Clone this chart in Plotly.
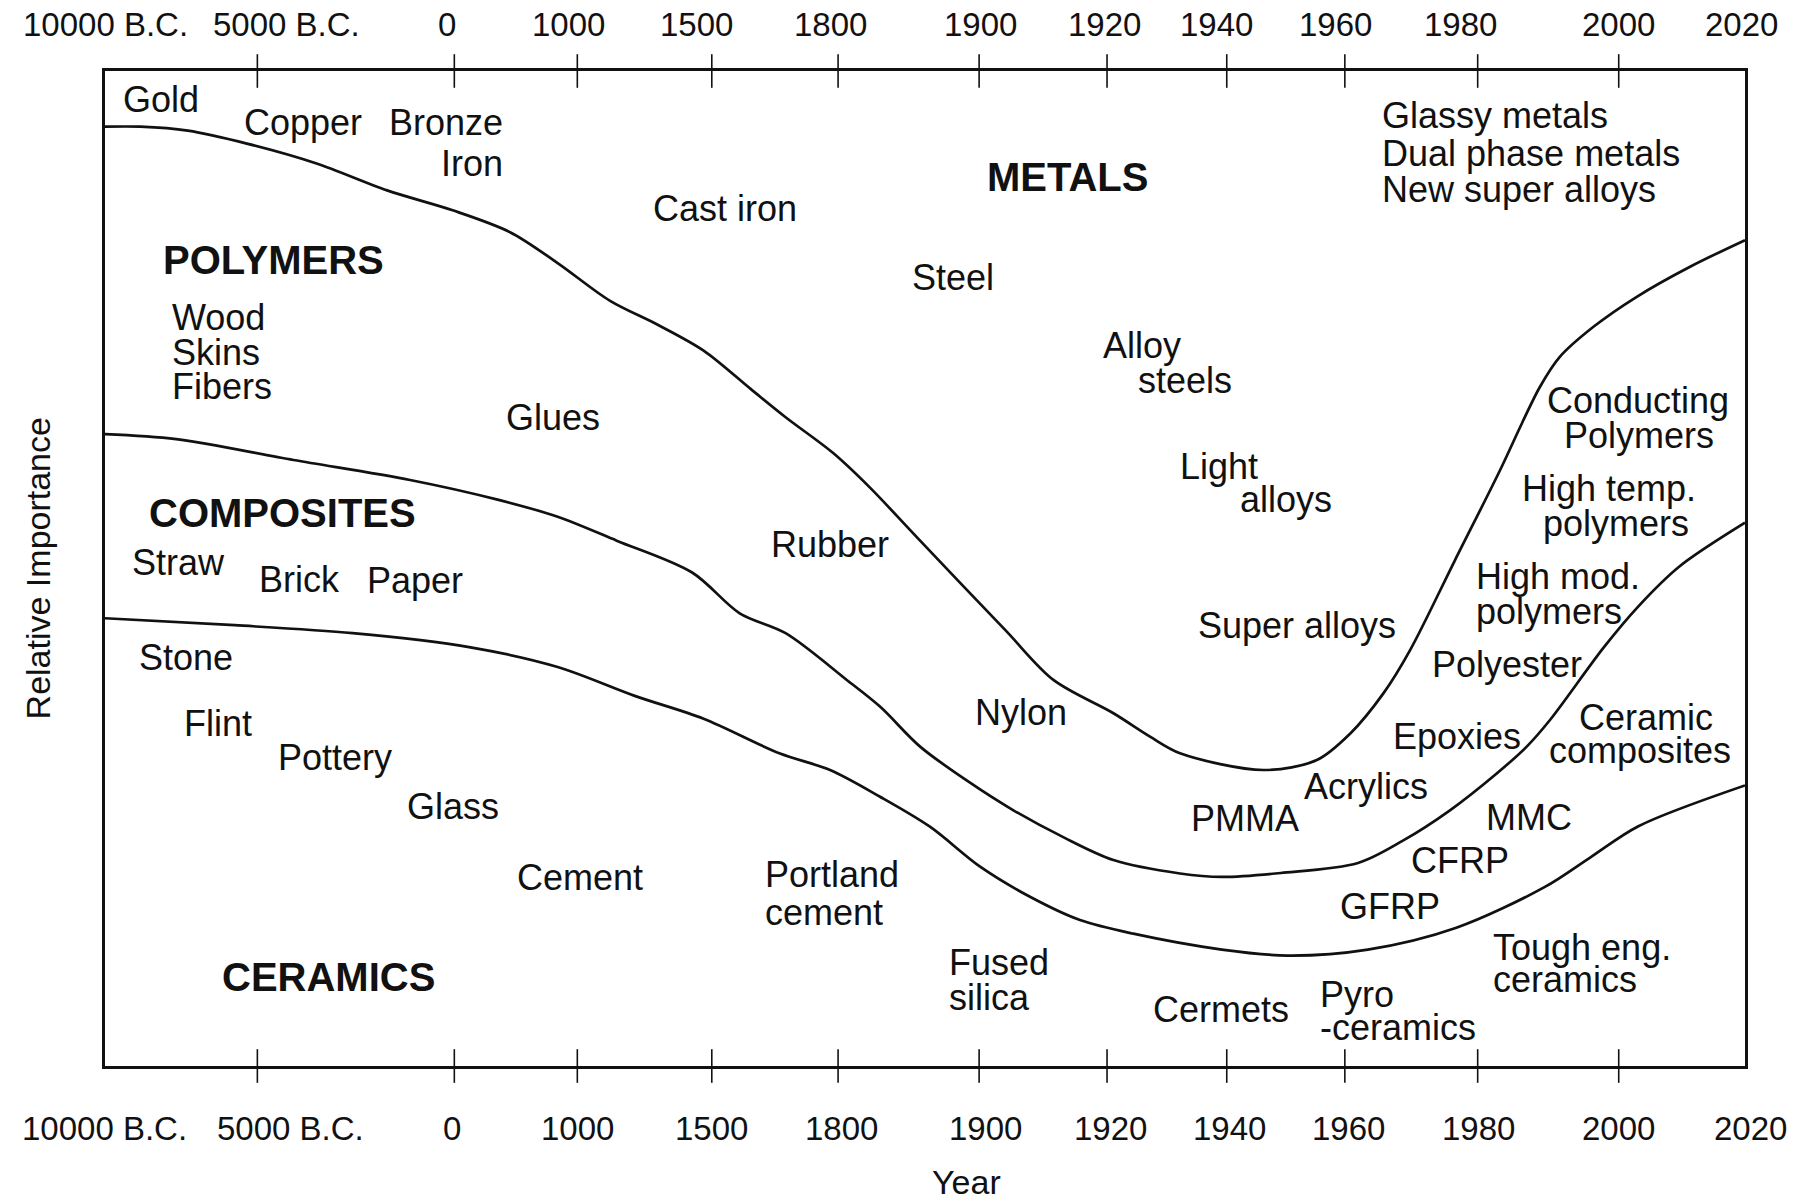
import plotly.graph_objects as go

# ---------------- data ----------------
# x = position along the (non-linear) time axis: 0 = 10000 B.C., 100 = 2020
# y = relative importance (0 = bottom of frame, 1 = top)

# boundary between METALS (above) and POLYMERS (below)
metals_x = [0, 2.15, 5.05, 8.65, 12.9, 17.2, 21.2, 24.7, 27.6, 30.8, 33.7, 36.5, 39.4,
            41.5, 44.4, 46.6, 49.7, 54.9, 57.83, 61.49, 63.72, 65.55, 70.63, 73.89, 75.92,
            77.95, 79.58, 82.32, 85.07, 86.4, 87.5, 88.72, 90.76, 93.40, 96.65, 100]
metals_y = [0.944, 0.944, 0.940, 0.927, 0.907, 0.880, 0.860, 0.838, 0.807, 0.769, 0.745,
            0.719, 0.680, 0.652, 0.616, 0.582, 0.528, 0.438, 0.388, 0.3545, 0.331, 0.3143,
            0.2975, 0.3075, 0.334, 0.3745, 0.418, 0.5085, 0.599, 0.646, 0.6827, 0.7129,
            0.7429, 0.7731, 0.8033, 0.830]

# boundary between POLYMERS (above) and COMPOSITES (below)
polymers_x = [0, 4.34, 11.5, 18.6, 24.0, 27.6, 31.2, 35.8, 38.7, 41.5, 45.23, 47.27, 49.70,
              52.54, 55.39, 58.43, 61.49, 65.55, 68.1, 71.7, 76.4, 79.14, 82.01, 84.86,
              86.69, 88.12, 91.4, 93.5, 96.0, 100]
polymers_y = [0.635, 0.630, 0.609, 0.589, 0.569, 0.552, 0.528, 0.496, 0.455, 0.435, 0.388,
              0.361, 0.321, 0.287, 0.257, 0.230, 0.207, 0.1935, 0.190, 0.194, 0.204, 0.2265,
              0.257, 0.294, 0.321, 0.348, 0.421, 0.462, 0.502, 0.546]

# boundary between COMPOSITES (above) and CERAMICS (below)
ceramics_x = [0, 7.9, 15.1, 22.2, 27.6, 32.3, 36.5, 41.16, 44.21, 47.26, 50.30, 53.36,
              56.40, 59.45, 62.7, 68.1, 72.1, 77.0, 82.4, 87.8, 90.6, 93.5, 100]
ceramics_y = [0.450, 0.443, 0.435, 0.421, 0.401, 0.372, 0.349, 0.314, 0.2975, 0.2706,
              0.2405, 0.2003, 0.1701, 0.1467, 0.133, 0.117, 0.111, 0.117, 0.139, 0.180,
              0.210, 0.241, 0.282]

tick_labels = ["10000 B.C.", "5000 B.C.", "0", "1000", "1500", "1800", "1900", "1920",
               "1940", "1960", "1980", "2000", "2020"]

class_names = ["POLYMERS", "METALS", "COMPOSITES", "CERAMICS"]
class_x = [10.28, 58.71, 10.85, 13.60]
class_y = [0.810, 0.893, 0.556, 0.089]

material_text = ["Gold", "Copper", "Bronze", "Iron", "Cast iron", "Glassy metals",
                 "Dual phase metals", "New super alloys", "Steel", "Wood", "Skins", "Fibers",
                 "Glues", "Alloy", "steels", "Light", "alloys", "Conducting", "Polymers",
                 "Straw", "Brick", "Paper", "Rubber", "High temp.", "polymers", "High mod.",
                 "polymers", "Super alloys", "Stone", "Polyester", "Flint", "Nylon", "Epoxies",
                 "Ceramic", "composites", "Pottery", "Acrylics", "Glass", "PMMA", "MMC", "CFRP",
                 "Cement", "Portland", "cement", "GFRP", "Tough eng.", "ceramics", "Fused",
                 "silica", "Cermets", "Pyro", "-ceramics"]
material_x = [3.42, 12.05, 24.39, 24.39, 37.78, 77.73, 77.73, 77.73, 51.71, 3.97, 3.97, 3.97,
              27.32, 63.23, 65.85, 67.90, 72.0, 93.49, 93.56, 4.48, 11.84, 18.9, 44.22, 91.73,
              92.15, 83.45, 83.45, 72.71, 4.91, 85.5, 6.89, 55.88, 82.46, 93.97, 93.6, 14.03,
              76.88, 21.24, 69.53, 86.85, 82.6, 28.98, 40.11, 40.11, 78.36, 84.51, 84.51,
              51.36, 51.36, 68.04, 73.98, 73.98]
material_y = [0.971, 0.948, 0.948, 0.907, 0.862, 0.955, 0.917, 0.881, 0.792, 0.752, 0.717,
              0.683, 0.652, 0.724, 0.689, 0.603, 0.569, 0.669, 0.634, 0.506, 0.489, 0.4875,
              0.524, 0.580, 0.545, 0.492, 0.457, 0.443, 0.411, 0.404, 0.344, 0.355, 0.331,
              0.350, 0.317, 0.310, 0.281, 0.261, 0.249, 0.250, 0.207, 0.189, 0.192, 0.154,
              0.160, 0.119, 0.0867, 0.104, 0.069, 0.0564, 0.0715, 0.0389]
material_anchor = ["center", "center", "right", "right", "center", "left", "left", "left",
                   "center", "left", "left", "left", "center", "center", "center", "center",
                   "center", "center", "center", "center", "center", "center", "center",
                   "center", "center", "left", "left", "center", "center", "center", "center",
                   "center", "center", "center", "center", "center", "center", "center",
                   "center", "center", "center", "center", "left", "left", "center", "left",
                   "left", "left", "left", "center", "left", "left"]

# ---------------- layout constants ----------------
FONT = "Liberation Sans, Arial, Helvetica, sans-serif"
INK = "#111111"
tick_pos = [9.29, 21.3, 28.8, 37.0, 44.7, 53.3, 61.1, 68.4, 75.6, 83.7, 92.3]
# label centres as fractions of the plot width (paper coordinates)
top_label_x = [0.0, 0.1106, 0.2088, 0.2824, 0.3608, 0.4422, 0.5341, 0.6097, 0.6776,
               0.7504, 0.8268, 0.9229, 0.9979]
bottom_label_x = [-0.0006, 0.1132, 0.2117, 0.2884, 0.3698, 0.4492, 0.5366, 0.6133, 0.6858,
                  0.758, 0.8378, 0.9229, 1.0035]

fig = go.Figure()

for xs, ys in [(metals_x, metals_y), (polymers_x, polymers_y), (ceramics_x, ceramics_y)]:
    fig.add_trace(go.Scatter(
        x=xs, y=ys, mode="lines",
        line=dict(color=INK, width=2.7, shape="spline", smoothing=0.9),
        hoverinfo="skip", showlegend=False))

# tick marks crossing the top and bottom frame lines
n = len(tick_pos)
fig.add_trace(go.Scatter(
    x=tick_pos + tick_pos, y=[1] * n + [0] * n, mode="markers",
    marker=dict(symbol="line-ns", size=24, color=INK, line=dict(color=INK, width=1.6)),
    cliponaxis=False, hoverinfo="skip", showlegend=False))

ann = []
for t, xv in zip(tick_labels, top_label_x):
    ann.append(dict(text=t, x=xv, xref="paper", y=1.047, yref="paper", showarrow=False,
                    xanchor="center", yanchor="middle",
                    font=dict(family=FONT, size=33, color=INK)))
for t, xv in zip(tick_labels, bottom_label_x):
    ann.append(dict(text=t, x=xv, xref="paper", y=-0.0633, yref="paper", showarrow=False,
                    xanchor="center", yanchor="middle",
                    font=dict(family=FONT, size=33, color=INK)))
for t, xv, yv in zip(class_names, class_x, class_y):
    ann.append(dict(text="<b>" + t + "</b>", x=xv, y=yv, xref="x", yref="y", showarrow=False,
                    xanchor="center", yanchor="middle",
                    font=dict(family=FONT, size=40, color=INK)))
for t, xv, yv, a in zip(material_text, material_x, material_y, material_anchor):
    ann.append(dict(text=t, x=xv, y=yv, xref="x", yref="y", showarrow=False,
                    xanchor=a, yanchor="middle",
                    font=dict(family=FONT, size=36, color=INK)))
ann.append(dict(text="Year", x=0.525, xref="paper", y=-0.1166, yref="paper", showarrow=False,
                xanchor="center", yanchor="middle",
                font=dict(family=FONT, size=34, color=INK)))
ann.append(dict(text="Relative Importance", x=-0.0409, xref="paper", y=0.5, yref="paper",
                showarrow=False, textangle=-90, xanchor="center", yanchor="middle",
                font=dict(family=FONT, size=34, color=INK)))

axis_common = dict(showgrid=False, zeroline=False, showticklabels=False, ticks="",
                   showline=True, mirror=True, linecolor=INK, linewidth=2.5, fixedrange=True)
fig.update_layout(
    width=1818, height=1202, autosize=False,
    margin=dict(l=105, r=73, t=71, b=136),
    paper_bgcolor="white", plot_bgcolor="white",
    xaxis=dict(range=[0, 100], **axis_common),
    yaxis=dict(range=[0, 1], **axis_common),
    annotations=ann,
    showlegend=False,
)

fig.write_html("out.html", config={"displayModeBar": False},
               post_script="document.body.style.margin='0';")
